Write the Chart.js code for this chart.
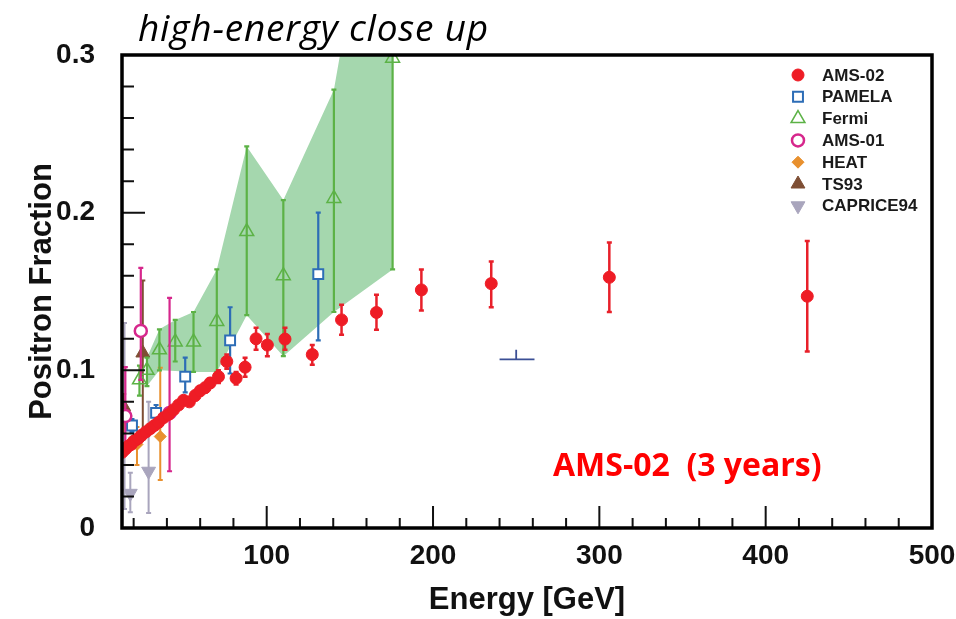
<!DOCTYPE html>
<html>
<head>
<meta charset="utf-8">
<title>Positron Fraction - high-energy close up</title>
<script src="https://cdn.jsdelivr.net/npm/chart.js@4.4.1/dist/chart.umd.min.js"></script>
<style>
  html, body { margin: 0; padding: 0; background: #fff; }
</style>
</head>
<body>
<canvas id="chart" width="956" height="619"></canvas>
<script>
// values (energy in GeV, positron fraction)

// AMS-02
const amsE  = [13.1, 15.0, 16.9, 18.5, 20.0, 21.5, 23.0, 25.0, 27.5, 30.0, 32.5, 35.0, 38.0, 41.0, 44.0, 47.0, 50.0, 53.5, 57.0, 60.0, 63.0, 66.0, 71.0, 76.0, 81.6, 87.0, 93.6, 100.4, 111.0, 127.4, 145.0, 166.0, 193.0, 235.0, 306.0, 425.0];
const amsF  = [0.048, 0.050, 0.052, 0.053, 0.055, 0.056, 0.057, 0.059, 0.061, 0.063, 0.065, 0.067, 0.070, 0.072, 0.075, 0.078, 0.081, 0.080, 0.084, 0.087, 0.089, 0.092, 0.096, 0.1056, 0.095, 0.102, 0.120, 0.116, 0.1198, 0.110, 0.132, 0.1367, 0.151, 0.155, 0.159, 0.147];
const amsLo = [0.046, 0.048, 0.050, 0.051, 0.053, 0.054, 0.055, 0.057, 0.059, 0.061, 0.063, 0.065, 0.068, 0.070, 0.073, 0.076, 0.079, 0.078, 0.081, 0.084, 0.086, 0.089, 0.092, 0.101, 0.091, 0.096, 0.113, 0.109, 0.113, 0.1035, 0.1225, 0.1257, 0.138, 0.140, 0.137, 0.112];
const amsHi = [0.050, 0.052, 0.054, 0.055, 0.057, 0.058, 0.059, 0.061, 0.063, 0.065, 0.067, 0.069, 0.072, 0.074, 0.077, 0.080, 0.083, 0.082, 0.087, 0.090, 0.092, 0.095, 0.100, 0.110, 0.099, 0.108, 0.127, 0.123, 0.127, 0.116, 0.1416, 0.148, 0.164, 0.169, 0.181, 0.182];

// PAMELA
const pamE  = [19.0, 33.5, 51.0, 78.0, 131.0];
const pamF  = [0.065, 0.073, 0.096, 0.119, 0.161];
const pamLo = [0.061, 0.069, 0.086, 0.098, 0.119];
const pamHi = [0.069, 0.078, 0.108, 0.140, 0.200];

// Fermi
const ferE  = [23.5, 28.0, 35.5, 45.0, 56.0, 70.0, 88.0, 110.0, 140.4, 175.7];
const ferF  = [0.094, 0.100, 0.113, 0.118, 0.118, 0.131, 0.188, 0.160, 0.209, 0.298];
const ferLo = [0.084, 0.090, 0.100, 0.1056, 0.099, 0.099, 0.135, 0.109, 0.137, 0.164];
const ferHi = [0.103, 0.108, 0.126, 0.132, 0.137, 0.164, 0.242, 0.208, 0.278, 0.49];

// Fermi systematic band
const bandE  = [28.0, 35.5, 45.0, 56.0, 70.0, 88.0, 110.0, 140.4, 175.7];
const bandHi = [0.108, 0.126, 0.132, 0.137, 0.164, 0.242, 0.208, 0.278, 0.49];
const bandLo = [0.090, 0.100, 0.0995, 0.099, 0.099, 0.135, 0.109, 0.137, 0.164];

// AMS-01
const am1E  = [15.0, 24.3, 41.6];
const am1F  = [0.071, 0.125, 0.073];
const am1Lo = [0.050, 0.094, 0.036];
const am1Hi = [0.102, 0.165, 0.146];

// HEAT
const heatE  = [14.0, 22.0, 36.0];
const heatF  = [0.066, 0.053, 0.058];
const heatLo = [0.060, 0.040, 0.0305];
const heatHi = [0.072, 0.064, 0.1016];

// TS93
const tsE  = [14.0, 25.5];
const tsF  = [0.077, 0.111];
const tsLo = [0.070, 0.056];
const tsHi = [0.085, 0.157];

// CAPRICE94
const capE  = [14.5, 18.0, 29.0];
const capF  = [0.068, 0.022, 0.036];
const capLo = [0.012, 0.010, 0.0095];
const capHi = [0.130, 0.035, 0.080];

// stray blue mark near 250 GeV
const strayE = [250], strayF = [0.107], strayHi = [0.113], strayELo = [240], strayEHi = [261];

// axes
const xRange = [13, 500];
const yRange = [0, 0.3];
const xLabelTicks = [100, 200, 300, 400, 500];
const xMinorTicks = [20, 40, 60, 80, 120, 140, 160, 180, 220, 240, 260, 280, 320, 340, 360, 380, 420, 440, 460, 480];
const yLabelTicks = [0, 0.1, 0.2, 0.3];
const yMinorTicks = [0.02, 0.04, 0.06, 0.08, 0.12, 0.14, 0.16, 0.18, 0.22, 0.24, 0.26, 0.28];

const AXIS_FONT = '"Liberation Sans", Arial, sans-serif';

function pts(E, F, lo, hi) {
  return E.map((e, i) => ({ x: e, y: F[i], yMin: lo ? lo[i] : undefined, yMax: hi ? hi[i] : undefined }));
}

// error bars, drawn just before each dataset's markers
const errorBars = {
  id: 'errorBars',
  beforeDatasetDraw(chart, args) {
    const ds = chart.data.datasets[args.index];
    if (!ds.err) return;
    const { ctx, chartArea: a } = chart;
    const xs = chart.scales.x, ys = chart.scales.y;
    ctx.save();
    ctx.beginPath();
    ctx.rect(a.left, a.top, a.right - a.left, a.bottom - a.top);
    ctx.clip();
    ctx.strokeStyle = ds.err.color;
    ctx.lineWidth = ds.err.width;
    const cap = ds.err.cap;
    ds.data.forEach(p => {
      const x = xs.getPixelForValue(p.x);
      const yc = ys.getPixelForValue(p.y);
      ctx.beginPath();
      if (p.yMin !== undefined || p.yMax !== undefined) {
        const y0 = ys.getPixelForValue(p.yMin !== undefined ? p.yMin : p.y);
        const y1 = ys.getPixelForValue(p.yMax !== undefined ? p.yMax : p.y);
        ctx.moveTo(x, y0); ctx.lineTo(x, y1);
        if (cap) {
          ctx.moveTo(x - cap, y0); ctx.lineTo(x + cap, y0);
          ctx.moveTo(x - cap, y1); ctx.lineTo(x + cap, y1);
        }
      }
      if (p.xMin !== undefined) {
        ctx.moveTo(xs.getPixelForValue(p.xMin), yc);
        ctx.lineTo(xs.getPixelForValue(p.xMax), yc);
      }
      ctx.stroke();
    });
    ctx.restore();
  }
};

// frame, inward ticks, legend and text notes
const decorations = {
  id: 'decorations',
  afterDraw(chart) {
    const { ctx, chartArea: a } = chart;
    const xs = chart.scales.x, ys = chart.scales.y;
    ctx.save();
    ctx.strokeStyle = '#111';
    ctx.lineWidth = 2;
    ctx.beginPath();
    xLabelTicks.forEach(v => {
      if (v >= xRange[1]) return;
      const x = xs.getPixelForValue(v);
      ctx.moveTo(x, a.bottom); ctx.lineTo(x, a.bottom - 22);
    });
    xMinorTicks.forEach(v => {
      const x = xs.getPixelForValue(v);
      ctx.moveTo(x, a.bottom); ctx.lineTo(x, a.bottom - 10);
    });
    yLabelTicks.forEach(v => {
      if (v <= yRange[0] || v >= yRange[1]) return;
      const y = ys.getPixelForValue(v);
      ctx.moveTo(a.left, y); ctx.lineTo(a.left + 23, y);
    });
    yMinorTicks.forEach(v => {
      const y = ys.getPixelForValue(v);
      ctx.moveTo(a.left, y); ctx.lineTo(a.left + 12, y);
    });
    ctx.stroke();

    ctx.lineWidth = 3.5;
    ctx.strokeStyle = '#000';
    ctx.strokeRect(a.left, a.top, a.right - a.left, a.bottom - a.top);

    // legend
    const lx = a.right - 134, tx = a.right - 110;
    let ly = a.top + 20;
    ctx.font = 'bold 17px ' + AXIS_FONT;
    ctx.textBaseline = 'middle';
    ctx.textAlign = 'left';
    chart.data.datasets.forEach(ds => {
      if (!ds.inLegend) return;
      ctx.fillStyle = ds.pointBackgroundColor;
      ctx.strokeStyle = ds.pointBorderColor;
      ctx.lineWidth = ds.pointBorderWidth;
      Chart.helpers.drawPoint(ctx, {
        pointStyle: ds.pointStyle, radius: ds.pointRadius,
        rotation: ds.pointRotation || 0, borderWidth: ds.pointBorderWidth
      }, lx, ly);
      ctx.fillStyle = '#1a1a1a';
      ctx.fillText(ds.label, tx, ly + 1);
      ly += 21.8;
    });

    // notes
    ctx.fillStyle = '#000';
    ctx.font = 'italic 37px "Open Sans", sans-serif';
    ctx.textBaseline = 'alphabetic';
    if ('letterSpacing' in ctx) ctx.letterSpacing = '0.8px';
    ctx.fillText('high-energy close up', a.left + 16, 41);
    if ('letterSpacing' in ctx) ctx.letterSpacing = '0px';
    ctx.fillStyle = '#ff0000';
    ctx.font = 'bold 32px "Open Sans", sans-serif';
    ctx.fillText('AMS-02  (3 years)', 553, 476);
    ctx.restore();
  }
};

function series(label, data, style) {
  return Object.assign({ label: label, data: data, inLegend: true, showLine: false }, style);
}

const datasets = [
  series('AMS-02', pts(amsE, amsF, amsLo, amsHi), {
    pointStyle: 'circle', pointRadius: 6, pointBorderWidth: 1,
    pointBackgroundColor: '#ee1c25', pointBorderColor: '#ee1c25',
    err: { color: '#e8202a', width: 2.5, cap: 2.5 }, order: 1
  }),
  series('PAMELA', pts(pamE, pamF, pamLo, pamHi), {
    pointStyle: 'rect', pointRadius: 7, pointBorderWidth: 2,
    pointBackgroundColor: '#ffffff', pointBorderColor: '#2d6db6',
    err: { color: '#2d6db6', width: 2.2, cap: 2.5 }, order: 3
  }),
  series('Fermi', pts(ferE, ferF, ferLo, ferHi), {
    pointStyle: 'triangle', pointRadius: 8, pointBorderWidth: 1.5,
    pointBackgroundColor: 'rgba(0,0,0,0)', pointBorderColor: '#5cb246',
    err: { color: '#5cb246', width: 2.2, cap: 2.5 }, order: 4
  }),
  series('AMS-01', pts(am1E, am1F, am1Lo, am1Hi), {
    pointStyle: 'circle', pointRadius: 6, pointBorderWidth: 2.5,
    pointBackgroundColor: '#ffffff', pointBorderColor: '#d6278c',
    err: { color: '#d6278c', width: 2.2, cap: 2.5 }, order: 2
  }),
  series('HEAT', pts(heatE, heatF, heatLo, heatHi), {
    pointStyle: 'rectRot', pointRadius: 6, pointBorderWidth: 1,
    pointBackgroundColor: '#e8902e', pointBorderColor: '#e8902e',
    err: { color: '#e8902e', width: 2, cap: 2.5 }, order: 5
  }),
  series('TS93', pts(tsE, tsF, tsLo, tsHi), {
    pointStyle: 'triangle', pointRadius: 8, pointBorderWidth: 1,
    pointBackgroundColor: '#7e4e34', pointBorderColor: '#7e4e34',
    err: { color: '#7e4e34', width: 2, cap: 2.5 }, order: 6
  }),
  series('CAPRICE94', pts(capE, capF, capLo, capHi), {
    pointStyle: 'triangle', pointRotation: 180, pointRadius: 8, pointBorderWidth: 1,
    pointBackgroundColor: '#a9a5bd', pointBorderColor: '#a9a5bd',
    err: { color: '#a9a5bd', width: 2, cap: 2.5 }, order: 7
  }),
  {
    label: 'stray', inLegend: false, showLine: false, pointRadius: 0, order: 8,
    data: strayE.map((e, i) => ({ x: e, y: strayF[i], yMax: strayHi[i], xMin: strayELo[i], xMax: strayEHi[i] })),
    err: { color: '#3b4f95', width: 1.8, cap: 0 }
  },
  {
    label: 'band upper', inLegend: false, showLine: true, pointRadius: 0, order: 20,
    data: bandE.map((e, i) => ({ x: e, y: bandHi[i] })),
    borderColor: 'rgba(0,0,0,0)', borderWidth: 0, tension: 0,
    fill: '+1', backgroundColor: 'rgb(165, 215, 174)'
  },
  {
    label: 'band lower', inLegend: false, showLine: true, pointRadius: 0, order: 21,
    data: bandE.map((e, i) => ({ x: e, y: bandLo[i] })),
    borderColor: 'rgba(0,0,0,0)', borderWidth: 0, tension: 0, fill: false
  }
];

new Chart(document.getElementById('chart'), {
  type: 'scatter',
  data: { datasets: datasets },
  plugins: [errorBars, decorations],
  options: {
    responsive: false,
    animation: false,
    layout: { padding: { top: 55, right: 24, bottom: 0, left: 0 } },
    plugins: {
      legend: { display: false },
      tooltip: { enabled: false }
    },
    scales: {
      x: {
        type: 'linear', min: xRange[0], max: xRange[1],
        grid: { display: false, drawTicks: false },
        border: { display: false },
        afterBuildTicks: s => { s.ticks = xLabelTicks.map(v => ({ value: v })); },
        afterFit: s => { s.height = 91; s.paddingLeft = 0; s.paddingRight = 0; },
        ticks: {
          color: '#111', padding: 11, maxRotation: 0, autoSkip: false,
          font: { family: AXIS_FONT, size: 28, weight: 'bold' },
          callback: v => String(v)
        },
        title: {
          display: true, text: 'Energy [GeV]', color: '#111',
          font: { family: AXIS_FONT, size: 31, weight: 'bold' },
          padding: { top: 0, bottom: 0 }
        }
      },
      y: {
        type: 'linear', min: yRange[0], max: yRange[1],
        grid: { display: false, drawTicks: false },
        border: { display: false },
        afterBuildTicks: s => { s.ticks = yLabelTicks.map(v => ({ value: v })); },
        afterFit: s => { s.width = 122; },
        ticks: {
          color: '#111', padding: 27, autoSkip: false,
          font: { family: AXIS_FONT, size: 28, weight: 'bold' },
          callback: v => v === 0 ? '0' : v.toFixed(1)
        },
        title: {
          display: true, text: 'Positron Fraction', color: '#111',
          font: { family: AXIS_FONT, size: 31, weight: 'bold' },
          padding: { top: 24, bottom: 0 }
        }
      }
    }
  }
});
</script>
</body>
</html>
